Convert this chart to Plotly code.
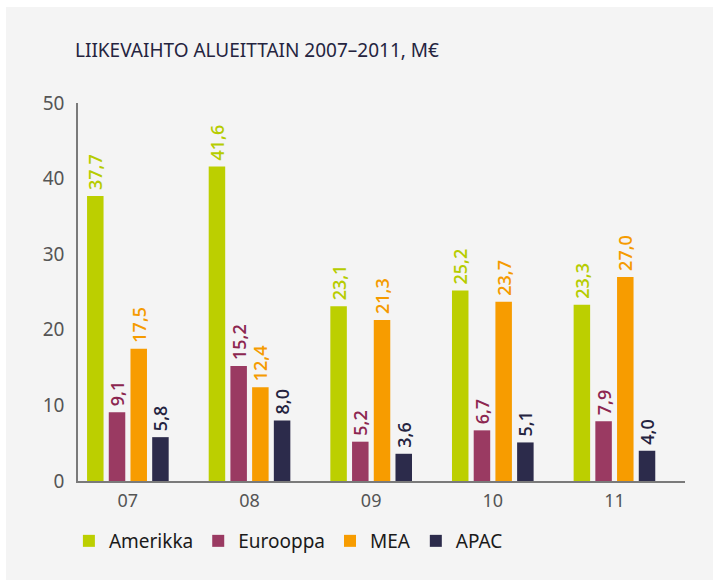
import plotly.graph_objects as go

years = ["07", "08", "09", "10", "11"]
series_names = ["Amerikka", "Eurooppa", "MEA", "APAC"]
amerikka = [37.7, 41.6, 23.1, 25.2, 23.3]
eurooppa = [9.1, 15.2, 5.2, 6.7, 7.9]
mea = [17.5, 12.4, 21.3, 23.7, 27.0]
apac = [5.8, 8.0, 3.6, 5.1, 4.0]
y_ticks = [0, 10, 20, 30, 40, 50]

values = [amerikka, eurooppa, mea, apac]
bar_colors = ["#bccf00", "#9a3a62", "#f79c00", "#2c2b4b"]
text_colors = ["#b6cc00", "#8c2650", "#f59b00", "#24233f"]

fig = go.Figure()
for name, vals, bc, tc in zip(series_names, values, bar_colors, text_colors):
    fig.add_trace(go.Bar(
        x=years, y=vals, name=name,
        marker=dict(color=bc, line=dict(width=0)),
        texttemplate="\u2009%{y:.1f}", textposition="outside", textangle=-90,
        constraintext="none",
        textfont=dict(color=tc, size=18, family="Open Sans", weight=600),
        cliponaxis=False,
    ))

W, H = 713, 580
L, R, T, B = 78, 28, 103, 99
pw, ph = W - L - R, H - T - B

fig.update_layout(
    width=W, height=H,
    margin=dict(l=L, r=R, t=T, b=B, pad=0),
    paper_bgcolor="white", plot_bgcolor="rgba(0,0,0,0)",
    separators=", ",
    barmode="group", bargap=0.286, bargroupgap=0.24,
    title=dict(text="LIIKEVAIHTO ALUEITTAIN 2007–2011, M€", xref="container", yref="container",
               x=75 / W, y=1 - 50 / H, xanchor="left", yanchor="middle",
               font=dict(family="Liberation Sans Narrow, Noto Sans", size=19, color="#25243f")),
    xaxis=dict(range=[-0.41, 4.58], showgrid=False, showline=True, linecolor="#7a7a7a", linewidth=1.5,
               ticks="", tickfont=dict(family="Noto Sans", size=18, color="#555555"), ticklabelstandoff=3),
    yaxis=dict(range=[0, 50], tickvals=y_ticks, showgrid=False, zeroline=False, showline=True,
               linecolor="#7a7a7a", linewidth=1.5, ticks="",
               tickfont=dict(family="Noto Sans", size=19, color="#555555"), ticklabelstandoff=8),
    legend=dict(orientation="h", x=-0.015, xanchor="left", y=(481 - 541) / ph, yanchor="middle",
                font=dict(family="Noto Sans", size=19, color="#1a1a1a"), itemwidth=30,
                bgcolor="rgba(0,0,0,0)", traceorder="normal"),
    showlegend=True,
    shapes=[dict(type="rect", xref="paper", yref="paper", layer="below",
                 x0=(6 - L) / pw, x1=(W - L) / pw + 0.01, y0=-(B + 2) / ph, y1=(H - T - B + T - 7) / ph,
                 fillcolor="#f4f4f4", line=dict(width=0))],
)

fig.write_html("out.html")
